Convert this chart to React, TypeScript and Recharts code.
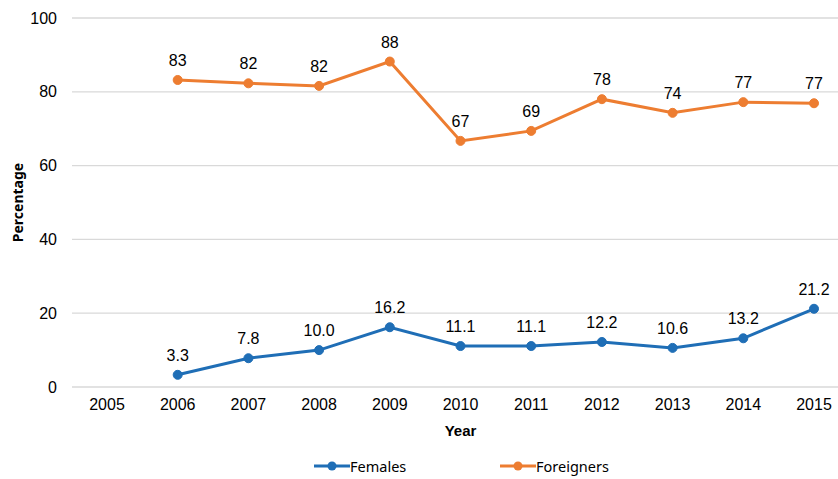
import { LineChart, Line, XAxis, YAxis, CartesianGrid, LabelList } from "recharts";

const years = ["2005", "2006", "2007", "2008", "2009", "2010", "2011", "2012", "2013", "2014", "2015"];
const females = [null, 3.3, 7.8, 10.0, 16.2, 11.1, 11.1, 12.2, 10.6, 13.2, 21.2];
const foreigners = [null, 83.2, 82.3, 81.6, 88.2, 66.7, 69.4, 78.0, 74.3, 77.2, 76.9];
const yTicks = [0, 20, 40, 60, 80, 100];

const series = [
  { key: "females", name: "Females", color: "#1F6EB6", fmt: (v: number) => v.toFixed(1) },
  { key: "foreigners", name: "Foreigners", color: "#ED7D31", fmt: (v: number) => String(Math.round(v)) },
];

const data = years.map((year, i) => ({
  year,
  females: females[i],
  foreigners: foreigners[i],
}));

const tickFont = { fontFamily: "Liberation Sans, Arial, sans-serif", fontSize: 16, fill: "#000" };

export default function App() {
  return (
    <div
      style={{
        position: "absolute",
        left: 0,
        top: 0,
        width: 838,
        height: 479,
        overflow: "hidden",
        background: "#fff",
      }}
    >
      <LineChart width={850} height={479} data={data} margin={{ top: 18, right: 1, bottom: 32, left: 0 }}>
        <CartesianGrid vertical={false} stroke="#d9d9d9" strokeWidth={1.3} />
        <XAxis
          dataKey="year"
          tickLine={false}
          axisLine={false}
          height={60}
          padding={{ left: 35, right: 35 }}
          tickMargin={6}
          tick={tickFont}
          label={{
            value: "Year",
            position: "insideBottom",
            offset: 11,
            style: { fontFamily: "Liberation Sans, Arial, sans-serif", fontSize: 15, fontWeight: "bold", fill: "#000" },
          }}
        />
        <YAxis
          width={72}
          domain={[0, 100]}
          ticks={yTicks}
          tickLine={false}
          axisLine={false}
          tickMargin={9}
          tick={tickFont}
          label={{
            value: "Percentage",
            angle: -90,
            position: "insideLeft",
            offset: 18,
            style: { textAnchor: "middle", fontFamily: "'Noto Sans', sans-serif", fontSize: 14, fontWeight: "bold", fill: "#000" },
          }}
        />
        {series.map((s) => (
          <Line
            key={s.key}
            dataKey={s.key}
            name={s.name}
            stroke={s.color}
            strokeWidth={3}
            dot={{ r: 4.5, fill: s.color, stroke: s.color, strokeWidth: 1 }}
            activeDot={false}
            isAnimationActive={false}
          >
            <LabelList
              dataKey={s.key}
              position="top"
              offset={14}
              formatter={(v: any) => (v == null ? "" : s.fmt(Number(v)))}
              style={{ fontFamily: "Liberation Sans, Arial, sans-serif", fontSize: 16, fill: "#000" }}
            />
          </Line>
        ))}
      </LineChart>

      {/* legend */}
      {series.map((s, i) => (
        <div
          key={s.key}
          style={{
            position: "absolute",
            left: i === 0 ? 314 : 500,
            top: 456,
            display: "flex",
            alignItems: "center",
            fontFamily: "'Noto Sans', sans-serif",
            fontSize: 14.5,
            color: "#000",
          }}
        >
          <svg width={36} height={12}>
            <line x1={0} y1={6} x2={36} y2={6} stroke={s.color} strokeWidth={3} />
            <circle cx={18} cy={6} r={4.5} fill={s.color} />
          </svg>
          <span>{s.name}</span>
        </div>
      ))}
    </div>
  );
}
